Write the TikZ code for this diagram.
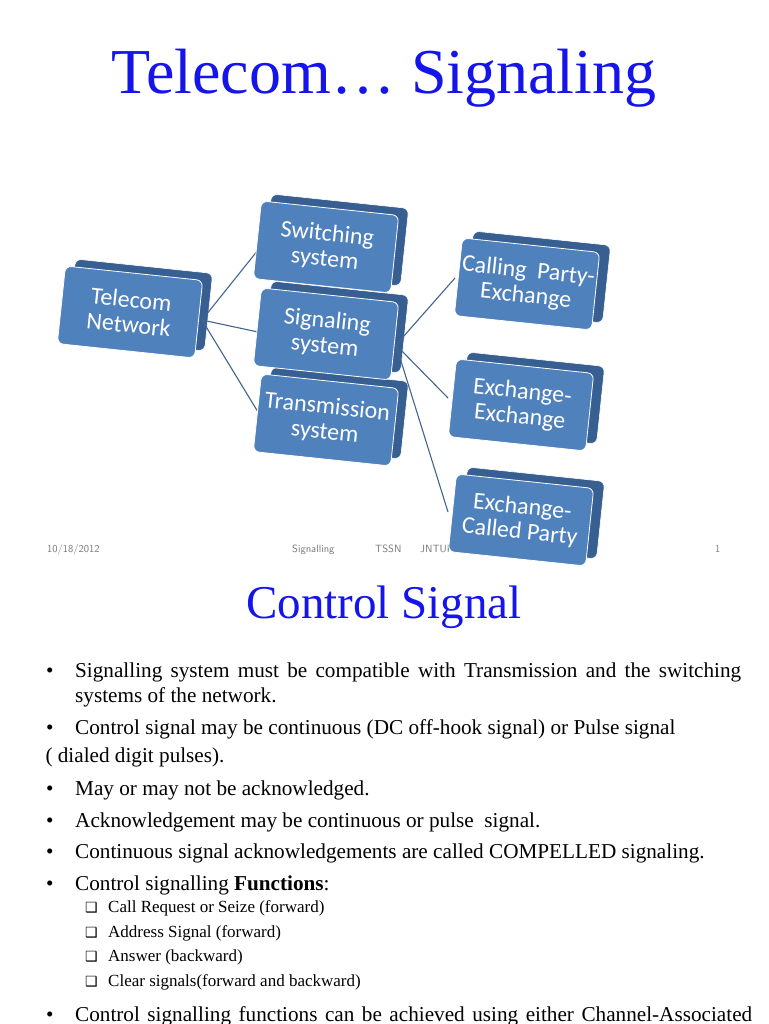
\documentclass[tikz,border=0pt]{standalone}
\usepackage{fontspec}
\setmainfont{Liberation Serif}
\newfontfamily\boxfont{Carlito}
\newfontfamily\djv{DejaVu Sans}
\definecolor{ttl}{RGB}{20,20,235}
\definecolor{bfront}{RGB}{79,129,189}
\definecolor{bback}{RGB}{55,95,145}
\definecolor{lnk}{RGB}{65,100,145}
\definecolor{foot}{RGB}{120,120,120}
\begin{document}
\begin{tikzpicture}[x=1pt,y=-1pt,
  bx/.style={rounded corners=6pt,rotate=-6,minimum width=138pt,minimum height=78pt,
    fill=bfront,draw=white,line width=0.8pt,text=white,font=\boxfont\fontsize{24}{25}\selectfont,align=center,inner sep=1pt},
  bk/.style={rounded corners=6pt,rotate=-6,minimum width=138pt,minimum height=78pt,
    fill=bback,draw=white,line width=0.6pt},
  lk/.style={draw=lnk,line width=1.1pt},
  bt/.style={anchor=base west,inner sep=0pt,font=\fontsize{21.2}{24}\selectfont},
  sb/.style={anchor=base west,inner sep=0pt,font=\fontsize{17}{19}\selectfont},
  ft/.style={anchor=base west,text=foot,font=\sffamily\fontsize{10.5}{12}\selectfont,inner sep=0pt}]
\useasboundingbox[fill=white] (0,0) rectangle (768,1024);
\node[text=ttl,font=\fontsize{64}{70}\selectfont] (title) at (384,78) {Telecom… Signaling};
% footer
\node[ft] (f1) at (47,552) {10/18/2012};
\node[ft] (f2) at (292,552) {Signalling};
\node[ft] (f3) at (375,552) {TSSN};
\node[ft] (f4) at (420,552) {JNTUK};
\node[ft] (f5) at (715,552) {1};
% back faces
\foreach \n/\x/\y in {tnb/140/305, swb/336/240, sgb/336/327, trb/336/413, cpb/538/277, eeb/532/398, ecb/532/513}
  \node[bk] (\n) at (\x,\y) {};
% links
\coordinate (tnr) at (202,320);
\coordinate (sgr) at (396,345);
\draw[lk] (tnr) -- (258,250) coordinate (swl);
\draw[lk] (tnr) -- (258,332) coordinate (sgl);
\draw[lk] (tnr) -- (258,412) coordinate (trl);
\draw[lk] (sgr) -- (455,278) coordinate (cpl);
\draw[lk] (sgr) -- (448,398) coordinate (eel);
\draw[lk] (sgr) -- (448,512) coordinate (ecl);
% front faces
\node[bx] (tn) at (130,312) {Telecom\\Network};
\node[bx] (sw) at (326,247) {Switching\\system};
\node[bx] (sg) at (326,334) {Signaling\\system};
\node[bx] (tr) at (326,420) {Transmission\\system};
\node[bx] (cp) at (527,284) {Calling\ \ Party-\\Exchange};
\node[bx] (ee) at (521,405) {Exchange-\\Exchange};
\node[bx] (ec) at (521,520) {Exchange-\\Called Party};
% second slide
\node[text=ttl,font=\fontsize{47}{50}\selectfont] (t2) at (384,607) {Control Signal};
\foreach \y in {677,734,795,827,858,890,1021}
  \node[bt] at (46,\y) {•};
\node[bt] (l1) at (75,677) {\makebox[666pt][s]{Signalling system must be compatible with Transmission and the switching}};
\node[bt] (l2) at (75,702) {systems of the network.};
\node[bt] (l3) at (75,734) {Control signal may be continuous (DC off-hook signal) or Pulse signal};
\node[bt] (l4) at (40,762) {\ ( dialed digit pulses).};
\node[bt] (l5) at (75,795) {May or may not be acknowledged.};
\node[bt] (l6) at (75,827) {Acknowledgement may be continuous or pulse\ \ signal.};
\node[bt] (l7) at (75,858) {Continuous signal acknowledgements are called COMPELLED signaling.};
\node[bt] (l8) at (75,890) {Control signalling \textbf{Functions}:};
\foreach \y/\t in {912/Call Request or Seize (forward), 937/Address Signal (forward), 961/Answer (backward), 986/Clear signals(forward and backward)}{
  \node[sb] at (85,\y) {\djv\fontsize{14}{16}\selectfont ❑};
  \node[sb] at (108,\y) {\t};
}
\node[bt] (l9) at (75,1021) {\makebox[677pt][s]{Control signalling functions can be achieved using either Channel-Associated}};
\end{tikzpicture}
\end{document}
